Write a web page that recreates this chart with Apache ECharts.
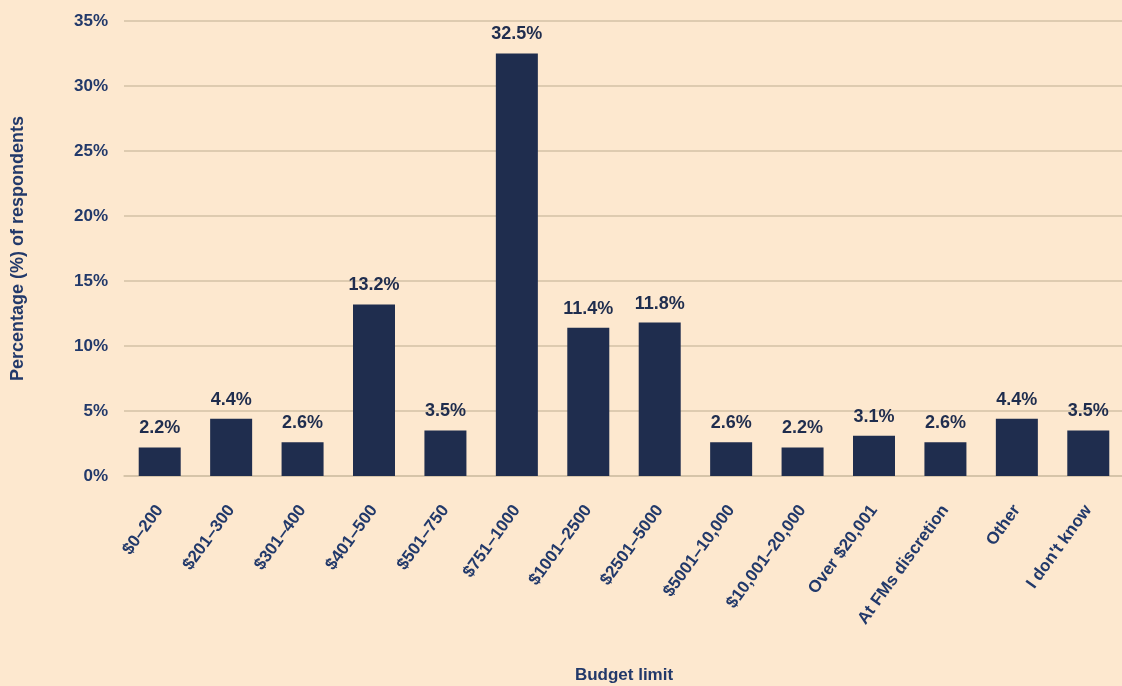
<!DOCTYPE html>
<html>
<head>
<meta charset="utf-8">
<script src="https://cdn.jsdelivr.net/npm/echarts@6/dist/echarts.min.js"></script>
<style>
  html, body { margin: 0; padding: 0; background: #fde8cf; }
  #chart { width: 1122px; height: 686px; }
</style>
</head>
<body>
<div id="chart"></div>
<script>
var categories = ['$0–200', '$201–300', '$301–400', '$401–500', '$501–750', '$751–1000', '$1001–2500',
  '$2501–5000', '$5001–10,000', '$10,001–20,000', 'Over $20,001', 'At FMs discretion', 'Other', "I don't know"];
var values = [2.2, 4.4, 2.6, 13.2, 3.5, 32.5, 11.4, 11.8, 2.6, 2.2, 3.1, 2.6, 4.4, 3.5];
var yTicks = [0, 5, 10, 15, 20, 25, 30, 35];

var navy = '#1f2d4e';
var textNavy = '#22396a';
var lineTan = '#d3c2a6';
var font = 'Liberation Sans';

var chart = echarts.init(document.getElementById('chart'));

var option = {
    backgroundColor: '#fde8cf',
    animation: false,
    grid: {
        left: 124,
        top: 21,
        width: 1000,
        height: 455,
        containLabel: false,
        outerBoundsMode: 'none'
    },
    xAxis: {
        type: 'category',
        data: categories,
        name: 'Budget limit',
        nameLocation: 'middle',
        nameGap: 191,
        nameTextStyle: { color: textNavy, fontSize: 17, fontWeight: 'bold', fontFamily: font },
        axisLine: { lineStyle: { color: lineTan, width: 1.5 } },
        axisTick: { inside: true, length: 6, lineStyle: { color: lineTan } },
        axisLabel: {
            rotate: 54,
            interval: 0,
            margin: 31,
            align: 'right',
            verticalAlign: 'middle',
            color: textNavy,
            fontSize: 17,
            fontWeight: 'bold',
            fontFamily: font
        }
    },
    yAxis: {
        type: 'value',
        min: yTicks[0],
        max: yTicks[yTicks.length - 1],
        interval: 5,
        name: 'Percentage (%) of respondents',
        nameLocation: 'middle',
        nameGap: 97,
        nameTextStyle: { color: textNavy, fontSize: 18, fontWeight: 'bold', fontFamily: font },
        axisLine: { show: false },
        axisTick: { show: false },
        splitLine: { lineStyle: { color: lineTan, width: 1.5 } },
        axisLabel: {
            margin: 16,
            color: textNavy,
            fontSize: 17,
            fontWeight: 'bold',
            fontFamily: font,
            formatter: '{value}%'
        }
    },
    series: [{
        type: 'bar',
        data: values,
        barWidth: 42,
        itemStyle: { color: navy },
        label: {
            show: true,
            position: 'top',
            distance: 10,
            color: navy,
            fontSize: 18,
            fontWeight: 'bold',
            fontFamily: font,
            formatter: function (p) { return p.value.toFixed(1) + '%'; }
        }
    }]
};

chart.setOption(option);
</script>
</body>
</html>
